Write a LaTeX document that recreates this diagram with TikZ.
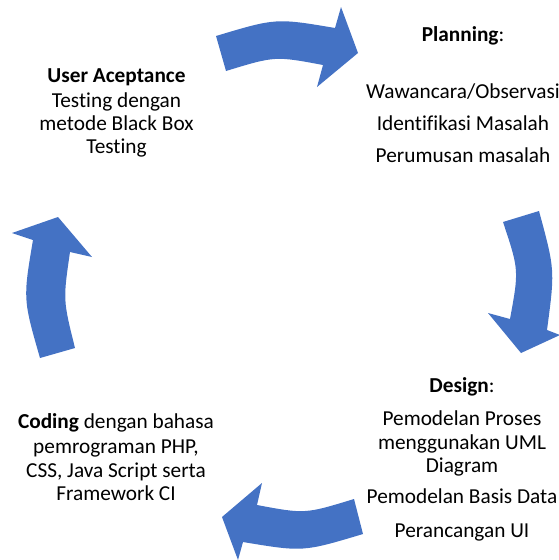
\documentclass[tikz,border=0pt]{standalone}
\usepackage{fontspec}
\setmainfont{Carlito}[Ligatures=NoCommon]
\definecolor{cycleblue}{RGB}{68,114,196}
\tikzset{
  lbl/.style={anchor=base,inner sep=0pt,font=\fontsize{21.3}{24}\selectfont},
  cyclearrow/.style={fill=cycleblue,draw=none}
}
\begin{document}
\begin{tikzpicture}[x=1pt,y=-1pt]
 \useasboundingbox (0,0) rectangle (559,560);
 \fill[cyclearrow](216,36) .. controls (276,18) .. (335,28) -- (341,7) -- (358,53) -- (317,87) -- (323,65) .. controls (275,56) .. (226,71) -- cycle;
 \fill[cyclearrow](503,222) -- (539,211) .. controls (555,270) .. (547,330) -- (560,335) -- (521,353) -- (488,313) -- (510,319) .. controls (519,270) .. (503,222) -- cycle;
 \fill[cyclearrow](363,534) .. controls (303,552) .. (243,542) -- (238,560) -- (222,517) -- (262,483) -- (257,505) .. controls (305,514) .. (354,499) -- cycle;
 \fill[cyclearrow](40,358) .. controls (23,299) .. (33,240) -- (12,233) -- (58,217) -- (92,257) -- (70,252) .. controls (63,300) .. (75,348) -- cycle;
 \node[lbl] (plan) at (463,41) {\textbf{Planning}:};
 \node[lbl] (plana) at (463,98) {Wawancara/Observasi};
 \node[lbl] (planb) at (463,130) {Identifikasi Masalah};
 \node[lbl] (planc) at (463,162) {Perumusan masalah};
 \node[lbl] (design) at (462,392) {\textbf{Design}:};
 \node[lbl] (designa) at (462,425) {Pemodelan Proses};
 \node[lbl] (designb) at (462,449) {menggunakan UML};
 \node[lbl] (designc) at (462,472) {Diagram};
 \node[lbl] (designd) at (462,503) {Pemodelan Basis Data};
 \node[lbl] (designe) at (462,537) {Perancangan UI};
 \node[lbl] (coding) at (116,428) {\textbf{Coding} dengan bahasa};
 \node[lbl] (codinga) at (116,453) {pemrograman PHP,};
 \node[lbl] (codingb) at (116,477) {CSS, Java Script serta};
 \node[lbl] (codingc) at (116,500) {Framework CI};
 \node[lbl] (uat) at (116.5,82) {\textbf{User Aceptance}};
 \node[lbl] (uata) at (116.5,107) {Testing dengan};
 \node[lbl] (uatb) at (116.5,130) {metode Black Box};
 \node[lbl] (uatc) at (116.5,153) {Testing};
\end{tikzpicture}
\end{document}
